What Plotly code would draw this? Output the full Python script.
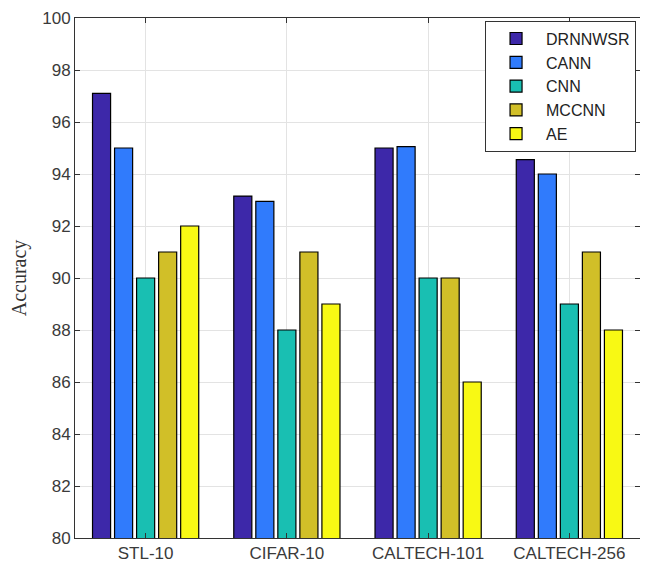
import plotly.graph_objects as go

categories = ["STL-10", "CIFAR-10", "CALTECH-101", "CALTECH-256"]
series_names = ["DRNNWSR", "CANN", "CNN", "MCCNN", "AE"]
drnnwsr = [97.1, 93.15, 95.0, 94.55]
cann = [95.0, 92.95, 95.05, 94.0]
cnn = [90.0, 88.0, 90.0, 89.0]
mccnn = [91.0, 91.0, 90.0, 91.0]
ae = [92.0, 89.0, 86.0, 88.0]
y_ticks = [80, 82, 84, 86, 88, 90, 92, 94, 96, 98, 100]

colors = ["#3d28a9", "#307bfc", "#19bfb2", "#d1bf28", "#f8f914"]
values = [drnnwsr, cann, cnn, mccnn, ae]

fig = go.Figure()
x_pos = list(range(1, len(categories) + 1))
for name, vals, col in zip(series_names, values, colors):
    fig.add_trace(go.Bar(
        x=x_pos, y=vals, name=name,
        marker=dict(color=col, line=dict(color="black", width=1.2)),
    ))

axis_font = dict(family="Liberation Sans, Arial, sans-serif", size=17, color="#3a3a3a")
fig.update_layout(
    width=640, height=566,
    margin=dict(l=67, r=8, t=10, b=36),
    paper_bgcolor="white", plot_bgcolor="white",
    barmode="group", bargap=0.22, bargroupgap=0.18,
    showlegend=True,
    legend=dict(
        x=0.993, y=0.995, xanchor="right", yanchor="top",
        bordercolor="#333333", borderwidth=1, bgcolor="white",
        font=dict(family="Liberation Sans, Arial, sans-serif", size=16, color="#222222"),
        tracegroupgap=0, itemwidth=50,
    ),
    xaxis=dict(
        range=[0.5, 4.5], tickmode="array", tickvals=x_pos, ticktext=categories,
        ticks="inside", ticklen=5, tickcolor="#333333",
        showgrid=True, gridcolor="#e3e3e3", gridwidth=1,
        showline=True, linecolor="#333333", linewidth=1, mirror="ticks",
        tickfont=axis_font, zeroline=False, automargin=False,
        ticklabeloverflow="allow",
    ),
    yaxis=dict(
        range=[80, 100], tickmode="array", tickvals=y_ticks,
        ticks="inside", ticklen=5, tickcolor="#333333",
        showgrid=True, gridcolor="#e3e3e3", gridwidth=1,
        showline=True, linecolor="#333333", linewidth=1, mirror="ticks",
        tickfont=axis_font, zeroline=False, automargin=False,
        ticklabeloverflow="allow",
        title=dict(text="Accuracy", font=dict(family="Liberation Serif, Times New Roman, serif", size=20, color="#333333"), standoff=14),
    ),
)

fig.write_html("out.html")
